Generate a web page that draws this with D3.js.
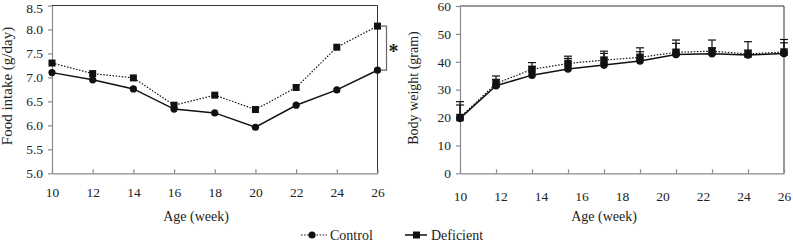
<!DOCTYPE html>
<html><head><meta charset="utf-8">
<script src="https://cdn.jsdelivr.net/npm/d3@7"></script>
<style>
body{margin:0;background:#fff;}
svg{display:block;}
svg text{font-family:'Liberation Serif','Times New Roman',Times,'DejaVu Serif',serif !important;fill:#222;}
</style></head>
<body><svg id="c" width="793" height="241"></svg>
<script>
// ---- Data ----
const ageWeeks = [10, 12, 14, 16, 18, 20, 22, 24, 26];
const foodControl = [7.10, 6.95, 6.76, 6.34, 6.26, 5.96, 6.42, 6.74, 7.15];
const foodDeficient = [7.30, 7.08, 6.99, 6.42, 6.63, 6.33, 6.79, 7.63, 8.07];
const foodTicks = [5.0, 5.5, 6.0, 6.5, 7.0, 7.5, 8.0, 8.5];

const bwMeasure = [1, 2, 3, 4, 5, 6, 7, 8, 9, 10];
const bwControl = [19.7, 31.4, 35.2, 37.4, 38.8, 40.3, 42.6, 42.9, 42.4, 43.0];
const bwControlErr = [4.8, 2.3, 3.0, 3.8, 4.2, 3.3, 4.0, 2.1, 1.8, 3.8];
const bwDeficient = [20.0, 32.2, 37.3, 39.4, 40.6, 41.6, 43.4, 43.8, 42.8, 43.5];
const bwDeficientErr = [5.7, 2.7, 2.4, 2.6, 3.2, 3.4, 4.4, 4.0, 4.4, 4.5];
const bwTicks = [0, 10, 20, 30, 40, 50, 60];
const ageLabels = [10, 12, 14, 16, 18, 20, 22, 24, 26];

const seriesNames = ["Control", "Deficient"];

const FONT = "'Liberation Serif', 'Times New Roman', Times, 'DejaVu Serif', serif";
const svg = d3.select("#c").attr("font-family", FONT);
const axisGrey = "#8a8a8a";
const ink = "#111";
const FS = 13.5;
const TFS = 14;

function frame(g, x0, x1, y0, y1) {
  g.append("line").attr("x1", x0).attr("x2", x1).attr("y1", y1).attr("y2", y1)
    .attr("stroke", "#333").attr("stroke-width", 1);
  g.append("line").attr("x1", x1).attr("x2", x1).attr("y1", y1).attr("y2", y0)
    .attr("stroke", "#333").attr("stroke-width", 1);
}

function styleAxis(sel) {
  sel.attr("font-family", FONT);
  sel.select(".domain").attr("stroke", axisGrey).attr("stroke-width", 1.2);
  sel.selectAll(".tick line").attr("stroke", axisGrey).attr("stroke-width", 1.2);
  sel.selectAll(".tick text").attr("font-family", FONT).attr("font-size", FS).attr("fill", "#222");
}

function drawSquare(g, cx, cy, s) {
  g.append("rect").attr("x", cx - s / 2).attr("y", cy - s / 2).attr("width", s).attr("height", s).attr("fill", ink);
}
function drawCircle(g, cx, cy, r) {
  g.append("circle").attr("cx", cx).attr("cy", cy).attr("r", r).attr("fill", ink);
}
function label(g, txt, size) {
  return g.append("text").attr("font-family", FONT).attr("font-size", size).attr("fill", "#222").text(txt);
}

// ---------- Left panel: food intake ----------
{
  const x = d3.scaleLinear().domain([10, 26]).range([52, 377.5]);
  const y = d3.scaleLinear().domain([5, 8.5]).range([173.3, 5.5]);
  const g = svg.append("g");
  frame(g, x(10), x(26), y(5), y(8.5));

  const xa = g.append("g").attr("transform", `translate(0,${y(5)})`)
    .call(d3.axisBottom(x).tickValues(ageWeeks).tickFormat(d3.format("d")).tickSizeInner(-4).tickSizeOuter(0).tickPadding(14));
  styleAxis(xa);
  const ya = g.append("g").attr("transform", `translate(${x(10)},0)`)
    .call(d3.axisLeft(y).tickValues(foodTicks).tickFormat(d3.format(".1f")).tickSizeInner(4).tickSizeOuter(0).tickPadding(5));
  styleAxis(ya);
  // keep the top label inside the picture
  ya.selectAll(".tick text").filter(d => d === foodTicks[foodTicks.length - 1]).attr("dy", "0.5em");

  const line = d3.line().x((d, i) => x(ageWeeks[i])).y(d => y(d));
  g.append("path").datum(foodDeficient).attr("d", line).attr("fill", "none")
    .attr("stroke", ink).attr("stroke-width", 1.2).attr("stroke-dasharray", "1.5,1.6");
  g.append("path").datum(foodControl).attr("d", line).attr("fill", "none")
    .attr("stroke", ink).attr("stroke-width", 1.5);
  foodDeficient.forEach((v, i) => drawSquare(g, x(ageWeeks[i]), y(v), 7));
  foodControl.forEach((v, i) => drawCircle(g, x(ageWeeks[i]), y(v), 3.6));

  // significance bracket
  const last = ageWeeks.length - 1;
  const bx = x(26) + 9, ya1 = y(foodDeficient[last]), ya2 = y(foodControl[last]);
  g.append("path").attr("d", `M${x(26) + 3},${ya1}H${bx}V${ya2}H${x(26) + 3}`)
    .attr("fill", "none").attr("stroke", "#666").attr("stroke-width", 1.2);
  label(g, "*", 20).attr("x", bx + 7).attr("y", (ya1 + ya2) / 2 + 10).attr("text-anchor", "middle")
    .attr("font-weight", "bold").attr("fill", ink);

  label(g, "Age (week)", TFS).attr("x", 196).attr("y", 221).attr("text-anchor", "middle");
  label(g, "Food intake (g/day)", 15).attr("transform", `translate(12,86) rotate(-90)`)
    .attr("text-anchor", "middle");
}

// ---------- Right panel: body weight ----------
{
  const xp = d3.scalePoint().domain(bwMeasure).range([460, 784]);
  const xl = d3.scaleLinear().domain([10, 26]).range([460, 784]);
  const y = d3.scaleLinear().domain([0, 60]).range([173.3, 6]);
  const g = svg.append("g");
  frame(g, 460, 784, y(0), y(60));

  const xa = g.append("g").attr("transform", `translate(0,${y(0)})`)
    .call(d3.axisBottom(xp).tickFormat("").tickSizeInner(-4).tickSizeOuter(0));
  styleAxis(xa);
  const xlab = g.append("g").attr("transform", `translate(0,${y(0)})`)
    .call(d3.axisBottom(xl).tickValues(ageLabels).tickFormat(d3.format("d")).tickSize(0).tickPadding(18));
  xlab.select(".domain").remove();
  styleAxis(xlab);
  const ya = g.append("g").attr("transform", `translate(460,0)`)
    .call(d3.axisLeft(y).tickValues(bwTicks).tickFormat(d3.format("d")).tickSizeInner(4).tickSizeOuter(0).tickPadding(5));
  styleAxis(ya);

  // error bars (upper)
  const errs = [[bwDeficient, bwDeficientErr], [bwControl, bwControlErr]];
  errs.forEach(([m, e]) => {
    m.forEach((v, i) => {
      const cx = xp(bwMeasure[i]);
      g.append("line").attr("x1", cx).attr("x2", cx).attr("y1", y(v)).attr("y2", y(v + e[i]))
        .attr("stroke", ink).attr("stroke-width", 1.2);
      g.append("line").attr("x1", cx - 4).attr("x2", cx + 4).attr("y1", y(v + e[i])).attr("y2", y(v + e[i]))
        .attr("stroke", ink).attr("stroke-width", 1.2);
    });
  });

  const line = d3.line().x((d, i) => xp(bwMeasure[i])).y(d => y(d));
  g.append("path").datum(bwDeficient).attr("d", line).attr("fill", "none")
    .attr("stroke", ink).attr("stroke-width", 1.2).attr("stroke-dasharray", "1.5,1.6");
  g.append("path").datum(bwControl).attr("d", line).attr("fill", "none")
    .attr("stroke", ink).attr("stroke-width", 1.5);
  bwControl.forEach((v, i) => drawCircle(g, xp(bwMeasure[i]), y(v), 3.8));
  bwDeficient.forEach((v, i) => drawSquare(g, xp(bwMeasure[i]), y(v), 7.5));

  label(g, "Age (week)", TFS).attr("x", 604).attr("y", 221).attr("text-anchor", "middle");
  label(g, "Body weight (gram)", TFS).attr("transform", `translate(418,88) rotate(-90)`)
    .attr("text-anchor", "middle");
}

// ---------- Legend ----------
{
  const g = svg.append("g");
  const ly = 235;
  g.append("line").attr("x1", 301).attr("x2", 327).attr("y1", ly).attr("y2", ly)
    .attr("stroke", ink).attr("stroke-width", 1.2).attr("stroke-dasharray", "1.5,1.6");
  drawCircle(g, 312, ly, 3.6);
  label(g, seriesNames[0], TFS).attr("x", 330).attr("y", ly + 4.5);
  g.append("line").attr("x1", 405).attr("x2", 427).attr("y1", ly).attr("y2", ly)
    .attr("stroke", ink).attr("stroke-width", 1.5);
  drawSquare(g, 416.5, ly, 7);
  label(g, seriesNames[1], TFS).attr("x", 431).attr("y", ly + 4.5);
}
</script></body></html>
